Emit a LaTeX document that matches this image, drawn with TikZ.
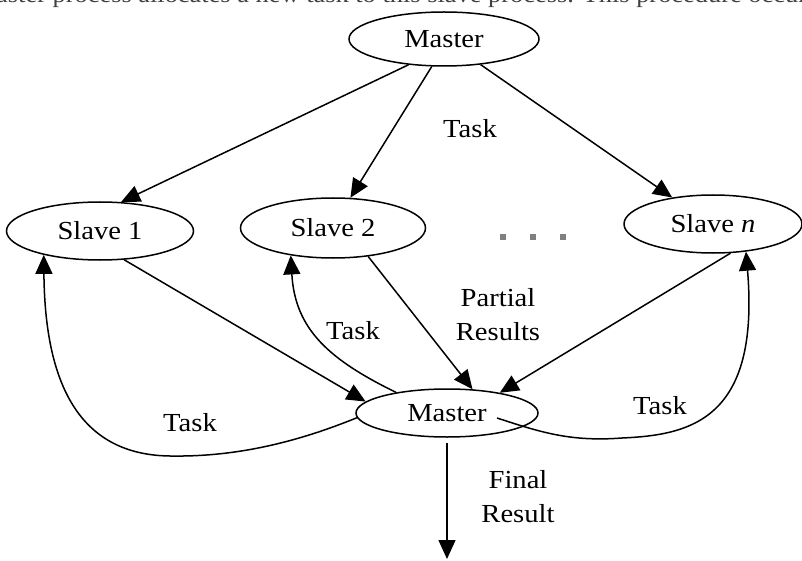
\documentclass[tikz,border=0pt]{standalone}
\usepackage{fontspec}
\setmainfont{Liberation Serif}[FakeStretch=1.1]
\usetikzlibrary{shapes.geometric,arrows.meta}
\begin{document}
\begin{tikzpicture}[x=1pt,y=-1pt,
  every node/.style={font=\fontsize{26}{34}\selectfont, inner sep=0pt},
  proc/.style={draw, ellipse, line width=1.5pt, inner sep=0pt},
  arr/.style={line width=1.5pt, -{Triangle[length=19pt,width=17pt]}},
  lbl/.style={align=center},
  dot/.style={fill=gray, minimum size=6pt, inner sep=0pt}]
\useasboundingbox (0,0) rectangle (802,561);
% cut-off text line at top
\node[anchor=base west, font=\fontsize{24}{24}\selectfont, text=black!75] (toptext) at (-4,3) {aster process allocates a new task to this slave process. This procedure occurs};
% nodes
\node[proc, minimum width=190pt, minimum height=54pt] (mtop) at (444,39) {Master};
\node[proc, minimum width=187pt, minimum height=58pt] (s1) at (100,231) {Slave 1};
\node[proc, minimum width=185pt, minimum height=60pt] (s2) at (333,228) {Slave 2};
\node[proc, minimum width=178pt, minimum height=58pt] (sn) at (713,224) {Slave \textit{n}};
\node[proc, minimum width=182pt, minimum height=48pt] (mbot) at (447,413) {Master};
\coordinate (fin) at (447,559);
% dots
\node[dot] (d1) at (503,237) {};
\node[dot] (d2) at (533,237) {};
\node[dot] (d3) at (563,237) {};
% master -> slaves
\draw[arr] (mtop.-144) -- (s1.54);
\draw[arr] (mtop.-114) -- (s2.60);
\draw[arr] (mtop.-35) -- (sn.147);
% slaves -> master (partial results)
\draw[arr] (s1.-50) -- (mbot.172);
\draw[arr] (s2.-39) -- (mbot.43);
\draw[arr] (sn.-59) -- (mbot.21);
% new tasks
\draw[arr] (mbot.183) .. controls (290,445) and (230,457) .. (170,456)
  .. controls (90,455) and (45,400) .. (s1.203);
\draw[arr] (mbot.158) .. controls (330,360) and (295,330) .. (s2.-147);
\draw[arr] ([xshift=50pt,yshift=-5pt]mbot.center) .. controls (540,432) and (570,442) .. (622,438)
  .. controls (690,435) and (760,420) .. (sn.-40);
% final result
\draw[arr, shorten <=5pt] (mbot) -- (fin);
% labels
\node (tk0) at (470,129) {Task};
\node (tk2) at (353,331) {Task};
\node[lbl] (pr) at (498,315) {Partial\\Results};
\node (tk1) at (190,423) {Task};
\node (tkn) at (660,406) {Task};
\node[lbl] (fr) at (518,497) {Final\\Result};
\end{tikzpicture}
\end{document}
